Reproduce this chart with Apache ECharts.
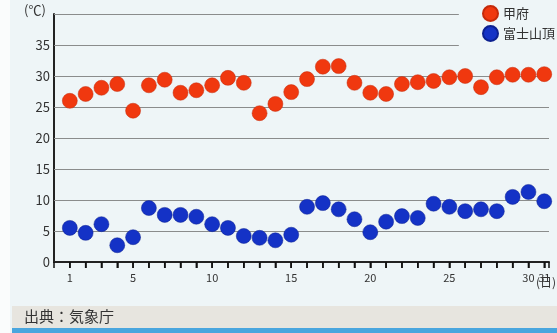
<!DOCTYPE html>
<html><head><meta charset="utf-8">
<script src="https://cdn.jsdelivr.net/npm/echarts@6/dist/echarts.min.js"></script>
<style>html,body{margin:0;padding:0;background:#eef5f7}#c{width:557px;height:333px}</style>
</head><body><div id="c"></div>
<script>
const days = [1,2,3,4,5,6,7,8,9,10,11,12,13,14,15,16,17,18,19,20,21,22,23,24,25,26,27,28,29,30,31];
const kofu = [26.0,27.1,28.1,28.7,24.4,28.5,29.4,27.3,27.7,28.5,29.7,28.9,24.0,25.5,27.4,29.5,31.5,31.6,28.9,27.3,27.1,28.7,29.0,29.2,29.8,30.0,28.2,29.8,30.2,30.2,30.3];
const fuji = [5.5,4.7,6.1,2.7,4.0,8.7,7.6,7.6,7.3,6.1,5.5,4.2,3.9,3.5,4.4,8.9,9.5,8.5,6.9,4.8,6.5,7.4,7.1,9.4,8.9,8.2,8.5,8.2,10.5,11.3,9.8];
const xTickLabels = [1,5,10,15,20,25,30,31];
const yTicks = [5,10,15,20,25,30,35,40];
const seriesNames = ['甲府','富士山頂'];
const font = '"Noto Sans CJK JP", "Noto Sans", sans-serif';

const gridLines = yTicks.map(v => {
  const xEnd = v >= 35 ? 25.6 : 31.3;
  return [{coord:[0,v]},{coord:[xEnd,v]}];
});

const chart = echarts.init(document.getElementById('c'), null, {renderer:'canvas'});
chart.setOption({
  backgroundColor:'#eef5f7',
  animation:false,
  grid:{left:54,right:8,top:14,bottom:71,containLabel:false},
  legend:{
    orient:'vertical', left:477, top:0, itemGap:3,
    itemWidth:15, itemHeight:15, icon:'circle',
    textStyle:{fontFamily:font,fontSize:13,color:'#333'},
    data:seriesNames
  },
  xAxis:{
    type:'value', min:0, max:31.3, interval:1,
    axisLine:{show:true,onZero:false,lineStyle:{color:'#222',width:2}},
    axisTick:{show:true,length:6,lineStyle:{color:'#111',width:1.5}},
    axisLabel:{show:true,interval:0,fontFamily:font,fontSize:11,color:'#333',margin:10,
      formatter:v => xTickLabels.includes(v) ? String(v) : ''},
    splitLine:{show:false}
  },
  yAxis:{
    type:'value', min:0, max:40, interval:5,
    axisLine:{show:true,lineStyle:{color:'#222',width:2}},
    axisTick:{show:false},
    axisLabel:{fontFamily:font,fontSize:13,color:'#333',margin:4,
      formatter:v => v===40 ? '' : String(v)},
    splitLine:{show:false}
  },
  graphic:[
    {type:'rect',left:0,top:0,shape:{width:10,height:333},style:{fill:'#fafcfc'}},
    {type:'rect',left:12,top:306,shape:{width:545,height:27},style:{fill:'#e7e5df'}},
    {type:'rect',left:12,top:328,shape:{width:545,height:5},style:{fill:'#4aa6de'}},
    {type:'text',left:24,top:309,style:{text:'出典：気象庁',fontFamily:font,fontSize:15,fill:'#333'}},
    {type:'text',left:24,top:4,style:{text:'(℃)',fontFamily:font,fontSize:13,fill:'#333'}},
    {type:'text',left:536,top:276,style:{text:'(日)',fontFamily:font,fontSize:12,fill:'#333'}}
  ],
  series:[
    {
      name:'ticks', type:'custom', silent:true, clip:false, z:5,
      data:days.map(d=>[d,0]),
      encode:{x:0,y:1},
      renderItem:(params, api) => {
        const p = api.coord([api.value(0), api.value(1)]);
        return {type:'line', z2:10, shape:{x1:p[0],y1:p[1],x2:p[0],y2:p[1]+6},
          style:{stroke:'#111',lineWidth:1.5,fill:null}};
      }
    },
    {
      name:seriesNames[0], type:'scatter', symbolSize:15,
      itemStyle:{color:'#f0380f',borderColor:'#c52a0a',borderWidth:0.5,opacity:1},
      data:days.map((d,i)=>[d,kofu[i]]),
      z:3,
      markLine:{silent:true,symbol:['none','none'],label:{show:false},
        lineStyle:{color:'#8a8c8c',width:1,type:'solid'},
        data:gridLines, z:1}
    },
    {
      name:seriesNames[1], type:'scatter', symbolSize:15,
      itemStyle:{color:'#1432c6',borderColor:'#0c2090',borderWidth:0.5,opacity:1},
      data:days.map((d,i)=>[d,fuji[i]]),
      z:3
    }
  ]
});
</script></body></html>
